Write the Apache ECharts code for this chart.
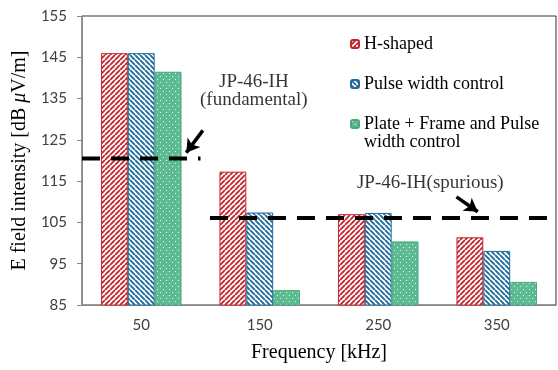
<!DOCTYPE html>
<html>
<head>
<meta charset="utf-8">
<script src="https://cdn.jsdelivr.net/npm/echarts@6/dist/echarts.min.js"></script>
<style>
  html, body { margin: 0; padding: 0; background: #fff; }
  #chart { width: 558px; height: 370px; }
</style>
</head>
<body>
<div id="chart"></div>
<script>
// Frequencies (kHz) and measured field intensities (dB µV/m)
var categories = ['50', '150', '250', '350'];
var hShaped    = [146, 117.3, 107.0, 101.4];
var pulseWidth = [146, 107.4, 107.3, 98.1];
var plateFrame = [141.5, 88.6, 100.4, 90.6];
var seriesNames = ['H-shaped', 'Pulse width control', 'Plate + Frame and Pulse\nwidth control'];

// Limit lines (x in category units along the axis, y in dB µV/m)
var fundamentalLimit = [[0, 120.5], [1.0, 120.5]];
var spuriousLimit    = [[1.08, 106.1], [4, 106.1]];
var fundamentalArrow = [[1.02, 127.3], [0.88, 121.9]];
var spuriousArrow    = [[3.16, 111.2], [3.34, 107.6]];
var fundamentalText  = [[1.45, 136.8]];
var spuriousText     = [[2.32, 114.6]];

var SERIF = '"Liberation Serif", "Times New Roman", serif';
var SANS = 'Lato, "Open Sans", sans-serif';

function stripePattern(color, dir) {
  var n = 5, c = document.createElement('canvas');
  c.width = n; c.height = n;
  var g = c.getContext('2d');
  g.fillStyle = '#fff';
  g.fillRect(0, 0, n, n);
  g.strokeStyle = color;
  g.lineWidth = 1.9;
  g.beginPath();
  for (var k = -1; k <= 1; k++) {
    if (dir > 0) { g.moveTo(k * n, n); g.lineTo(k * n + n, 0); }
    else { g.moveTo(k * n, 0); g.lineTo(k * n + n, n); }
  }
  g.stroke();
  return { image: c, repeat: 'repeat' };
}

function dotPattern(color) {
  var n = 6, c = document.createElement('canvas');
  c.width = n; c.height = n;
  var g = c.getContext('2d');
  g.fillStyle = color;
  g.fillRect(0, 0, n, n);
  g.fillStyle = 'rgba(255,255,255,0.85)';
  g.fillRect(1, 1, 1, 1);
  g.fillRect(4, 4, 1, 1);
  return { image: c, repeat: 'repeat' };
}

var RED = '#c4262d', BLUE = '#1f6b9c', GREEN = '#5cbb91';

var chart = echarts.init(document.getElementById('chart'), null, { renderer: 'canvas' });

function barSeries(name, data, fill, border) {
  return {
    name: name, type: 'bar', data: data, barGap: '0%', barCategoryGap: '32%',
    itemStyle: { color: fill, borderColor: border, borderWidth: 1 },
    z: 2
  };
}

function limitLine(data) {
  return {
    type: 'line', xAxisIndex: 1, data: data, symbol: 'none', silent: true, z: 5,
    lineStyle: { color: '#000', width: 4, type: [18, 11] }
  };
}

function arrow(data) {
  return {
    type: 'line', xAxisIndex: 1, data: [], symbol: 'none', silent: true, z: 6,
    markLine: {
      silent: true, symbol: ['none', 'arrow'], symbolSize: [12, 13],
      label: { show: false },
      lineStyle: { color: '#000', width: 3.5, type: 'solid' },
      data: [[{ coord: data[0] }, { coord: data[1] }]]
    }
  };
}

function note(data, text, align) {
  return {
    type: 'scatter', xAxisIndex: 1, data: data, symbolSize: 0, silent: true, z: 6,
    label: {
      show: true, position: 'inside', formatter: text, align: align,
      fontFamily: SERIF, fontSize: 19, lineHeight: 18, color: '#000'
    }
  };
}

var legendFont = { fontFamily: SERIF, fontSize: 18, fontWeight: 'normal', lineHeight: 18, color: '#000' };
var legendText = {
  fontFamily: SERIF, fontSize: 18, fontWeight: 'normal', lineHeight: 18, color: '#000',
  rich: { t: legendFont }
};
function legendLabel(name) {
  return name.split('\n').map(function (s) { return '{t|' + s + '}'; }).join('\n');
}

chart.setOption({
  animation: false,
  grid: { left: 82, top: 16, right: 2, bottom: 65, show: true, borderColor: '#333', borderWidth: 1 },
  legend: [{
    orient: 'vertical', left: 345, top: 30, itemWidth: 8, itemHeight: 8, itemGap: 22,
    selectedMode: false,
    data: [seriesNames[0], seriesNames[1]],
    formatter: legendLabel,
    textStyle: legendText
  }, {
    // the two-line entry: a blank leading line keeps the swatch level with the first line
    orient: 'vertical', left: 345, top: 92, itemWidth: 8, itemHeight: 8,
    selectedMode: false,
    data: [seriesNames[2]],
    formatter: function (name) { return '{t| }\n' + legendLabel(name); },
    textStyle: legendText
  }],
  xAxis: [{
    type: 'category', data: categories,
    name: 'Frequency [kHz]', nameLocation: 'middle', nameGap: 38,
    nameTextStyle: { fontFamily: SERIF, fontSize: 20, color: '#000' },
    axisLine: { lineStyle: { color: '#888' } },
    axisTick: { length: 5, lineStyle: { color: '#888' } },
    axisLabel: { fontFamily: SANS, fontSize: 15, color: '#404040', margin: 13 }
  }, {
    type: 'value', min: 0, max: 4, show: false
  }],
  yAxis: {
    type: 'value', min: 85, max: 155, interval: 10,
    name: 'E field intensity [dB {i|\u03bc}V/m]', nameLocation: 'middle', nameGap: 50, nameRotate: 90,
    nameTextStyle: {
      fontFamily: SERIF, fontSize: 20, color: '#000',
      rich: { i: { fontFamily: SERIF, fontSize: 20, fontStyle: 'italic', color: '#000' } }
    },
    axisLine: { show: true, lineStyle: { color: '#888' } },
    axisTick: { show: true, length: 5, lineStyle: { color: '#888' } },
    splitLine: { show: false },
    axisLabel: { fontFamily: SANS, fontSize: 15, color: '#404040', margin: 15 }
  },
  series: [
    barSeries(seriesNames[0], hShaped, stripePattern(RED, 1), RED),
    barSeries(seriesNames[1], pulseWidth, stripePattern(BLUE, -1), BLUE),
    barSeries(seriesNames[2], plateFrame, dotPattern(GREEN), '#4aa77f'),
    limitLine(fundamentalLimit),
    limitLine(spuriousLimit),
    arrow(fundamentalArrow),
    arrow(spuriousArrow),
    note(fundamentalText, 'JP-46-IH\n(fundamental)', 'center'),
    note(spuriousText, 'JP-46-IH(spurious)', 'left')
  ]
});
</script>
</body>
</html>
